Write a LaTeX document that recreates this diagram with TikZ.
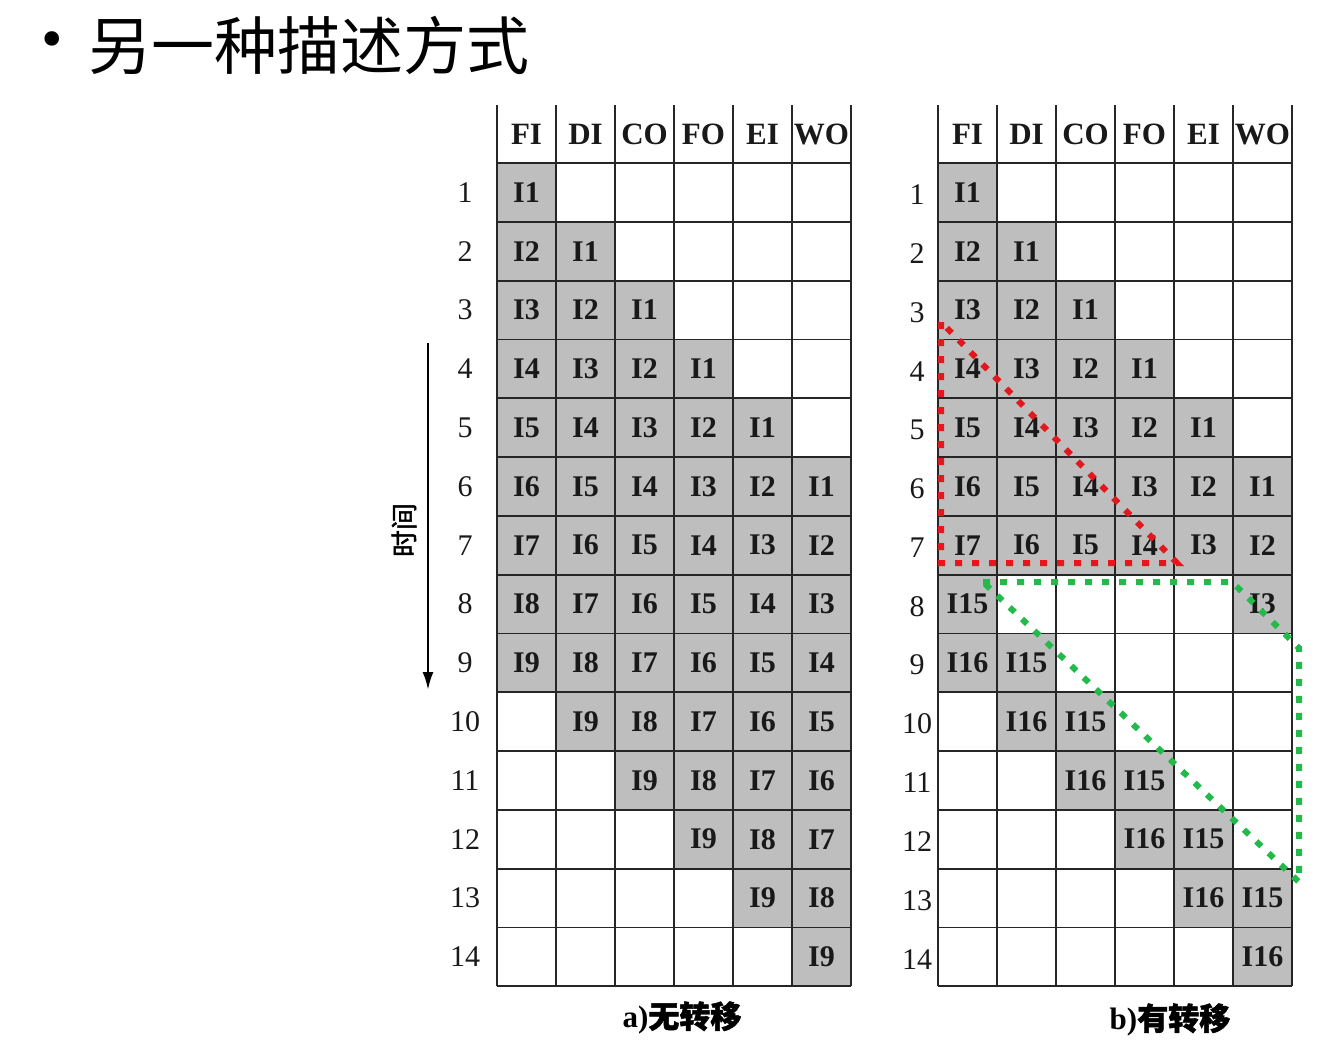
\documentclass[tikz,border=0pt]{standalone}
\usepackage{fontspec}
\setmainfont{Liberation Serif}
\newfontfamily\cjk{Noto Sans CJK SC}
\newfontfamily\cjkb[FakeBold=1.5]{Noto Sans CJK SC}
\newfontfamily\dejavu{DejaVu Sans}
\usetikzlibrary{arrows.meta}

\definecolor{cellgray}{RGB}{190,190,190}
\definecolor{dotred}{RGB}{225,25,30}
\definecolor{dotgreen}{RGB}{35,185,75}

\tikzset{
	cell/.style={inner sep=0pt, text=black!90, font=\bfseries\fontsize{30}{30}\selectfont},
	colhead/.style={inner sep=0pt, text=black!90, font=\bfseries\fontsize{31}{31}\selectfont},
	rownum/.style={inner sep=0pt, text=black!90, font=\fontsize{30}{30}\selectfont},
	gridline/.style={line width=1.8pt, color=black!85},
	dotline/.style={line width=6pt, dash pattern=on 7pt off 10pt},
}

\begin{document}
\begin{tikzpicture}[x=1pt, y=-1pt]
			%%%%% START %%%%%
			\useasboundingbox[fill=white] (0, 0) rectangle (1342, 1049);
			
			\node[inner sep=0pt, font=\dejavu\fontsize{50}{50}\selectfont] (bullet) at (52, 45) {•};
			\node[anchor=west, inner sep=0pt, font=\cjk\fontsize{63}{63}\selectfont] (title) at (88, 45) {另一种描述方式};
			
			% a) left table, cells
			\foreach \r in {1,...,14}{
				\foreach \c in {1,...,6}{
					\pgfmathtruncatemacro{\k}{\r-\c+1}
					\ifnum\k>0 \ifnum\k<10
						\fill[cellgray] (497+59*\c-59, 163+58.8*\r-58.8) rectangle ++(59, 58.8);
						\node[cell] (a-\r-\c) at (497+59*\c-29.5, 163+58.8*\r-29.4) {I\k};
					\fi\fi
				}
			}
			
			% b) right table, cells
			\foreach \r in {1,...,14}{
				\foreach \c in {1,...,6}{
					\pgfmathtruncatemacro{\k}{\r-\c+1}
					\def\lab{}
					\ifnum\r<8 \ifnum\k>0 \edef\lab{\k}\fi
					\else
						\ifnum\k=8 \def\lab{15}\fi
						\ifnum\k=9 \def\lab{16}\fi
						\ifnum\k=3 \def\lab{3}\fi
					\fi
					\ifx\lab\empty\else
						\fill[cellgray] (938+59*\c-59, 163+58.8*\r-58.8) rectangle ++(59, 58.8);
						\node[cell] (b-\r-\c) at (938+59*\c-29.5, 163+58.8*\r-29.4) {I\lab};
					\fi
				}
			}
			
			% grid lines
			\foreach \x in {497, 938}{
				\foreach \c in {0,...,6}
					\draw[gridline] (\x+59*\c, 105) -- (\x+59*\c, 986);
				\foreach \r in {0,...,14}
					\draw[gridline] (\x, 163+58.8*\r) -- (\x+354, 163+58.8*\r);
			}
			
			% column heads and row numbers
			\foreach \h [count=\c] in {FI,DI,CO,FO,EI,WO}{
				\node[colhead] (ha-\c) at (497+59*\c-29.5, 134) {\h};
				\node[colhead] (hb-\c) at (938+59*\c-29.5, 134) {\h};
			}
			\foreach \r in {1,...,14}{
				\node[rownum] (na-\r) at (465, 163+58.8*\r-29.4) {\r};
				\node[rownum] (nb-\r) at (917, 163+58.8*\r-27) {\r};
			}
			
			% time arrow
			\coordinate (tstart) at (428, 343);
			\coordinate (tend) at (428, 690);
			\draw[line width=2.5pt, -{Latex[length=18pt, width=11pt]}] (tstart) -- (tend);
			\node[rotate=90, inner sep=0pt, font=\cjkb\fontsize{27}{27}\selectfont] (tlabel) at (404, 530) {时间};
			
			% captions
			\node[inner sep=0pt, font=\bfseries\fontsize{31}{31}\selectfont] (capa) at (682, 1018) {a)\cjkb 无转移};
			\node[inner sep=0pt, font=\bfseries\fontsize{31}{31}\selectfont] (capb) at (1170, 1020) {b)\cjkb 有转移};
			
			% dotted outlines
			\draw[dotline, dotred] (941, 322) -- (941, 563) -- (1177, 563) -- cycle;
			\draw[dotline, dotgreen] (983, 582) -- (1232, 582) -- (1299, 648) -- (1299, 882) -- cycle;
			
			%%%%% END %%%%%
\end{tikzpicture}
\end{document}
